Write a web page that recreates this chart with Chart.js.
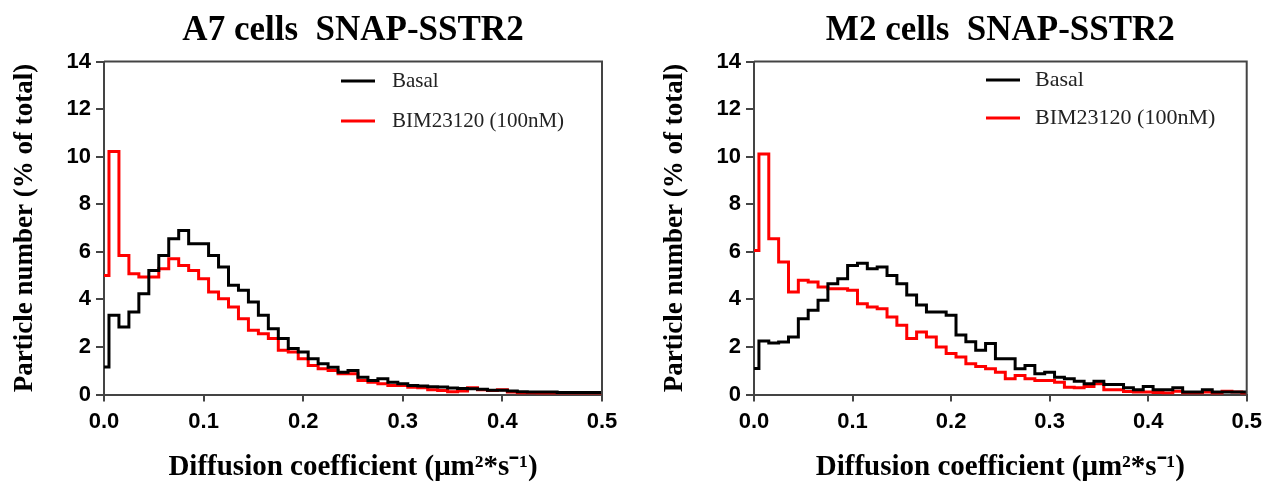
<!DOCTYPE html>
<html><head><meta charset="utf-8">
<script src="https://cdn.jsdelivr.net/npm/chart.js@4/dist/chart.umd.min.js"></script>
<style>
html,body{margin:0;padding:0;background:#fff;width:1269px;height:482px;overflow:hidden;}
#wrapA{position:absolute;left:0;top:0;width:650px;height:482px;}
#wrapB{position:absolute;left:650px;top:0;width:619px;height:482px;}
</style></head><body>
<div id="wrapA"><canvas id="cA" width="650" height="482"></canvas></div>
<div id="wrapB"><canvas id="cB" width="619" height="482"></canvas></div>
<script>
// Bin centres of the diffusion-coefficient histogram (µm²/s)
const binCenters = [0.00,0.01,0.02,0.03,0.04,0.05,0.06,0.07,0.08,0.09,
  0.10,0.11,0.12,0.13,0.14,0.15,0.16,0.17,0.18,0.19,
  0.20,0.21,0.22,0.23,0.24,0.25,0.26,0.27,0.28,0.29,
  0.30,0.31,0.32,0.33,0.34,0.35,0.36,0.37,0.38,0.39,
  0.40,0.41,0.42,0.43,0.44,0.45,0.46,0.47,0.48,0.49,0.50];

const xTickValues = [0, 0.1, 0.2, 0.3, 0.4, 0.5];
const xTickLabels = ['0.0','0.1','0.2','0.3','0.4','0.5'];
const yTickValues = [0, 2, 4, 6, 8, 10, 12, 14];
const yTickLabels = ['0','2','4','6','8','10','12','14'];

const seriesNames = ['Basal', 'BIM23120 (100nM)'];
const chartTitles = ['A7 cells  SNAP-SSTR2', 'M2 cells  SNAP-SSTR2'];
const xAxisTitle = 'Diffusion coefficient (μm²*s⁻¹)';
const yAxisTitle = 'Particle number (% of total)';

// A7 cells
const a7Basal = [1.16,3.33,2.84,3.47,4.24,5.22,5.85,6.55,6.9,6.34,
  6.34,5.85,5.36,4.59,4.38,3.89,3.33,2.77,2.35,1.93,
  1.79,1.5,1.29,1.15,0.94,1.01,0.73,0.59,0.66,0.52,
  0.45,0.38,0.36,0.33,0.32,0.27,0.25,0.24,0.22,0.18,
  0.18,0.15,0.12,0.1,0.1,0.1,0.08,0.08,0.08,0.08,0.08];
const a7Bim = [5.0,10.22,5.85,5.08,4.94,4.94,5.29,5.71,5.43,5.22,
  4.87,4.31,4.03,3.68,3.19,2.7,2.56,2.35,1.86,1.79,
  1.5,1.22,1.08,1.01,0.87,0.87,0.59,0.52,0.45,0.38,
  0.38,0.31,0.28,0.2,0.17,0.12,0.15,0.28,0.2,0.17,
  0.2,0.1,0.06,0.06,0.05,0.05,0.05,0.05,0.05,0.05,0.05];

// M2 cells
const m2Basal = [1.09,2.25,2.17,2.21,2.42,3.19,3.54,3.96,4.66,4.87,
  5.43,5.52,5.29,5.36,5.0,4.66,4.18,3.76,3.47,3.47,
  3.33,2.5,2.22,1.86,2.14,1.5,1.5,1.08,1.22,0.87,
  0.94,0.73,0.66,0.56,0.45,0.56,0.42,0.42,0.28,0.2,
  0.34,0.2,0.2,0.28,0.1,0.1,0.2,0.1,0.1,0.1,0.1];
const m2Bim = [6.06,10.11,6.55,5.57,4.31,4.8,4.73,4.52,4.45,4.45,
  4.38,3.82,3.68,3.61,3.26,2.91,2.35,2.63,2.42,2.0,
  1.72,1.58,1.29,1.18,1.08,0.94,0.66,0.8,0.66,0.59,
  0.59,0.52,0.31,0.28,0.34,0.45,0.2,0.2,0.13,0.1,
  0.1,0.08,0.06,0.14,0.06,0.06,0.1,0.05,0.14,0.1,0.05];

const seriesColors = ['#000000', '#ff0000'];
const AXIS = '#444444';

const frameLegendPlugin = {
  id: 'frameLegend',
  afterDraw(chart) {
    const {ctx, chartArea: a} = chart;
    const o = chart.options.plugins.frameLegend;
    ctx.save();
    // top and right frame lines
    ctx.strokeStyle = AXIS;
    ctx.lineWidth = 2;
    ctx.beginPath();
    ctx.moveTo(a.left, a.top);
    ctx.lineTo(a.right, a.top);
    ctx.lineTo(a.right, a.bottom);
    ctx.stroke();
    // legend
    ctx.font = o.size + 'px "Liberation Serif"';
    ctx.textBaseline = 'middle';
    ctx.textAlign = 'left';
    chart.data.datasets.forEach((ds, i) => {
      const y = o.ys[i];
      ctx.strokeStyle = ds.borderColor;
      ctx.lineWidth = 3;
      ctx.beginPath();
      ctx.moveTo(o.x0, y);
      ctx.lineTo(o.x1, y);
      ctx.stroke();
      ctx.fillStyle = '#222';
      ctx.fillText(ds.label, o.tx, y);
    });
    ctx.restore();
  }
};

function makeChart(id, title, basal, bim, legend, padRight) {
  const toPts = vals => vals.map((v, i) => ({x: binCenters[i], y: v}));
  return new Chart(document.getElementById(id), {
    type: 'line',
    data: {
      datasets: [
        {label: seriesNames[0], data: toPts(basal), borderColor: seriesColors[0], backgroundColor: seriesColors[0],
         borderWidth: 3, pointRadius: 0, stepped: 'middle', fill: false},
        {label: seriesNames[1], data: toPts(bim), borderColor: seriesColors[1], backgroundColor: seriesColors[1],
         borderWidth: 3, pointRadius: 0, stepped: 'middle', fill: false}
      ]
    },
    plugins: [frameLegendPlugin],
    options: {
      responsive: false,
      animation: false,
      devicePixelRatio: 1,
      layout: {padding: {left: 0, right: padRight, top: 0, bottom: 0}},
      plugins: {
        legend: {display: false},
        tooltip: {enabled: false},
        title: {display: true, text: title, fullSize: false, color: '#000',
          font: {family: 'Liberation Serif', size: 35, weight: 'bold'},
          padding: {top: 10, bottom: 9.6}},
        frameLegend: legend
      },
      scales: {
        x: {
          type: 'linear', min: 0, max: 0.5,
          afterBuildTicks: s => { s.ticks = xTickValues.map(v => ({value: v})); },
          afterFit: s => { s.height = 87.5; },
          border: {display: true, color: AXIS, width: 2},
          grid: {display: true, drawOnChartArea: false, drawTicks: true, tickLength: 7, color: AXIS, lineWidth: 2},
          ticks: {color: '#000', padding: 7, maxRotation: 0, autoSkip: false,
            font: {family: 'Liberation Sans', size: 22, weight: 'bold'},
            callback: (v, i) => xTickLabels[i]},
          title: {display: true, text: xAxisTitle, color: '#000',
            font: {family: 'Liberation Serif', size: 29, weight: 'bold'},
            padding: {top: 0, bottom: -3}}
        },
        y: {
          type: 'linear', min: 0, max: 14,
          afterBuildTicks: s => { s.ticks = yTickValues.map(v => ({value: v})); },
          afterFit: s => { s.width = 104; },
          border: {display: true, color: AXIS, width: 2},
          grid: {display: true, drawOnChartArea: false, drawTicks: true, tickLength: 8, color: AXIS, lineWidth: 2},
          ticks: {color: '#000', padding: 5, autoSkip: false,
            font: {family: 'Liberation Sans', size: 22, weight: 'bold'},
            callback: (v, i) => yTickLabels[i]},
          title: {display: true, text: yAxisTitle, color: '#000',
            font: {family: 'Liberation Serif', size: 27, weight: 'bold'},
            padding: {top: 9, bottom: 0}}
        }
      }
    }
  });
}

makeChart('cA', chartTitles[0], a7Basal, a7Bim, {x0: 341, x1: 375, tx: 392, ys: [81, 121], size: 21}, 48);
makeChart('cB', chartTitles[1], m2Basal, m2Bim, {x0: 336, x1: 370, tx: 385, ys: [80, 118], size: 22}, 17);
</script>
</body></html>
